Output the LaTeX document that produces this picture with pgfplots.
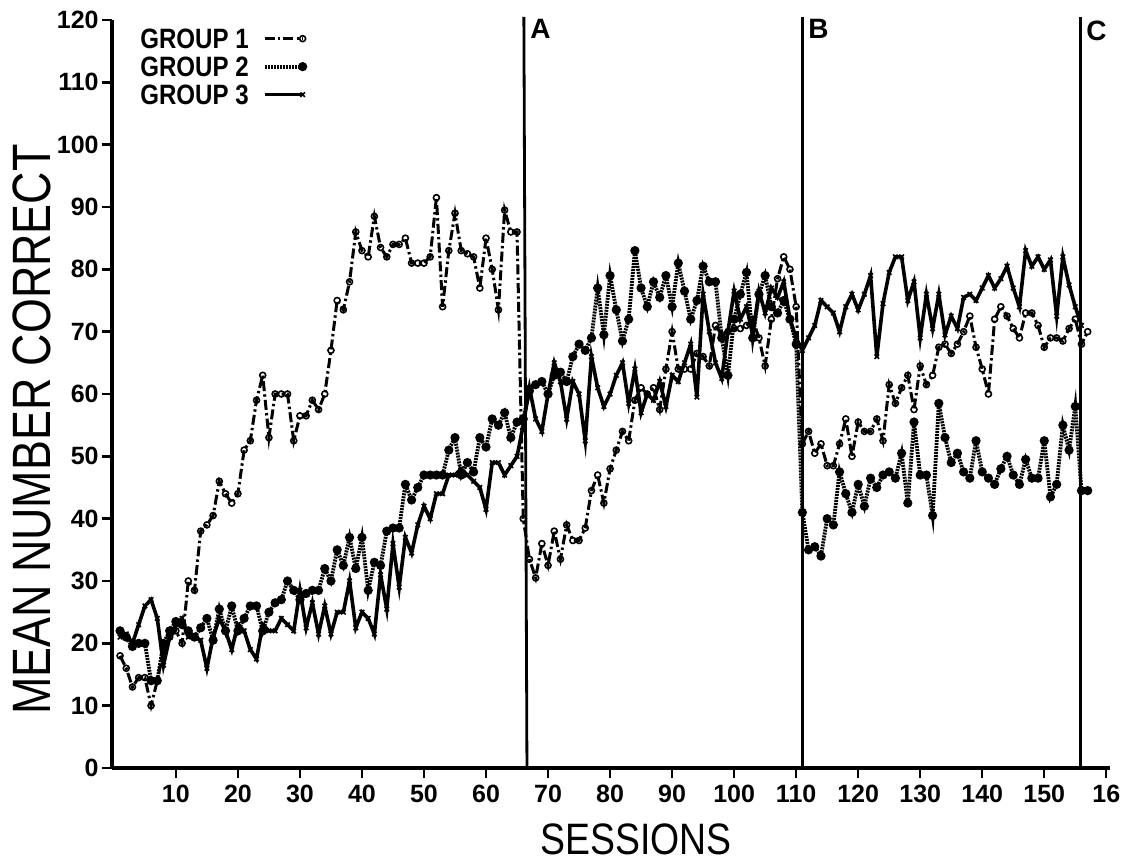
\documentclass[border=0pt]{standalone}
\usepackage{pgfplots}
\pgfplotsset{compat=1.18}
\usepackage{fontspec}
\setmainfont{Liberation Sans}
\pgfplotstableread{
x y
1 18
2 16
3 13
4 14.5
5 14.5
6 10
7 14
8 19
9 21
10 22
11 20
12 30
13 28.5
14 38
15 39
16 40.5
17 46
18 44
19 42.5
20 44
21 51
22 52.5
23 59
24 63
25 53
26 60
27 60
28 60
29 52.5
30 56.5
31 56.5
32 59
33 57.5
34 60
35 67
36 75
37 73.5
38 78
39 86
40 83
41 82
42 88.5
43 83.5
44 82
45 84
46 84
47 85
48 81
49 81
50 81
51 82
52 91.5
53 74
54 83
55 89
56 83
57 82.5
58 82
59 77
60 85
61 80
62 73.5
63 89.5
64 86
65 86
66 40
67 33.5
68 30.5
69 36
70 32.5
71 38
72 33.5
73 39
74 36.5
75 36.5
76 38.5
77 44.5
78 47
79 42.5
80 48
81 51
82 54
83 52.5
84 59
85 61
86 60
87 61
88 57.5
89 64
90 70
91 64
92 64
93 64
94 66.5
95 66
96 64.5
97 71
98 69.5
99 70
100 70.5
101 70.5
102 71
103 72
104 69
105 64.5
106 72
107 78.5
108 82
109 80
110 74
111 52
112 54
113 50.5
114 52
115 48.5
116 48.5
117 52
118 56
119 50
120 55.5
121 54
122 54
123 56
124 52.5
125 61.5
126 58.5
127 61
128 63
129 57.5
130 64.5
131 61.5
132 63
133 67.5
134 68
135 66.5
136 68
137 70
138 72.5
139 67.5
140 64
141 60
142 72
143 74
144 72.5
145 70.5
146 69
147 73
148 73
149 71
150 67.5
151 69
152 69
153 68.5
154 70.5
155 72
156 68
157 70
}\groupone
\pgfplotstableread{
x y
1 22
2 21
3 19.5
4 20
5 20
6 14
7 14
8 20
9 22
10 23.5
11 23
12 22
13 21
14 22.5
15 24
16 20.5
17 25.5
18 22
19 26
20 22
21 24
22 26
23 26
24 22
25 25
26 26.5
27 27
28 30
29 28.5
30 27
31 28
32 28.5
33 28.5
34 32
35 30
36 35
37 32.5
38 37
39 32
40 37
41 28.5
42 33
43 32.5
44 38
45 38.5
46 38.5
47 45.5
48 43
49 45
50 47
51 47
52 47
53 47
54 51
55 53
56 47
57 49
58 47.5
59 53
60 51.5
61 56
62 55
63 57
64 53
65 55.5
66 56
67 60.5
68 61.5
69 62
70 60
71 63
72 63.5
73 62
74 66
75 68
76 67
77 69
78 77
79 69.5
80 79
81 73.5
82 68.5
83 72
84 83
85 77
86 74
87 78
88 75.5
89 79
90 74
91 81
92 76.5
93 72
94 75
95 80.5
96 78
97 78
98 69
99 63
100 72
101 76
102 79.5
103 69
104 76
105 79
106 74
107 73
108 75
109 72
110 68
111 41
112 35
113 35.5
114 34
115 40
116 39
117 47.5
118 44
119 41
120 45.5
121 42
122 46.5
123 45
124 47
125 47.5
126 46.5
127 50.5
128 42.5
129 55.5
130 47
131 47
132 40.5
133 58.5
134 53
135 49
136 50.5
137 47.5
138 46.5
139 52.5
140 47.5
141 46.5
142 45.5
143 48
144 50
145 47
146 45.5
147 49.5
148 46.5
149 46.5
150 52.5
151 43.5
152 45.5
153 55
154 51
155 58
156 44.5
157 44.5
}\grouptwo
\pgfplotstableread{
x y
1 21
2 21.5
3 20
4 23
5 26
6 27
7 24
8 16.5
9 21
10 23
11 24
12 21
13 21
14 20.5
15 16
16 21
17 24
18 22
19 19
20 23
21 22
22 19
23 17.5
24 23
25 22
26 22
27 24
28 23
29 22
30 28.5
31 22.5
32 26.5
33 21.5
34 26
35 21.5
36 25
37 25
38 30
39 22.5
40 25
41 24
42 21.5
43 31
44 25.5
45 36
46 29
47 37
48 34.5
49 39
50 42
51 40
52 44
53 44
54 47
55 47
56 48
57 47
58 46
59 45
60 41.5
61 49
62 49
63 47
64 48.5
65 50
66 55
67 61
68 56
69 54
70 60
71 65
72 62
73 56
74 62
75 60
76 52.5
77 66
78 61
79 58
80 60
81 63
82 65
83 58.5
84 64
85 57
86 60
87 59
88 62
89 58
90 63
91 62
92 65
93 68
94 59.5
95 76
96 70
97 65
98 62.5
99 70
100 76.5
101 72
102 74
103 69.5
104 76.5
105 73
106 77
107 75.5
108 78
109 72
110 69
111 67
112 69
113 71
114 75
115 74
116 73
117 70
118 74
119 76
120 73.5
121 76
122 79
123 66
124 74.5
125 79.5
126 82
127 82
128 75
129 78
130 69
131 76
132 70.5
133 76
134 69.5
135 72.5
136 70.5
137 75.5
138 76
139 75
140 77
141 79
142 77
143 78.5
144 80.5
145 77
146 74
147 83
148 80.5
149 82
150 80
151 81.5
152 72.5
153 82
154 77.5
155 74
156 71
}\groupthree
\begin{document}
\begin{tikzpicture}
\begin{axis}[
  scale only axis, width=499pt, height=374pt,
  xmin=-0.3, xmax=160.6, ymin=0, ymax=120,
  axis x line=bottom, axis y line=left,
  axis line style={line width=1.8pt, -},
  xtick={10,20,...,160},
  xticklabels={10,20,30,40,50,60,70,80,90,100,110,120,130,140,150,16},
  ytick={0,10,...,120},
  tick align=outside, major tick length=5pt,
  tick style={line width=1.2pt, black},
  /pgf/number format/assume math mode=true,
  ticklabel style={font=\bfseries\fontsize{12.5}{12.5}\selectfont},
  yticklabel style={inner sep=1.5pt},
  clip=false,
  legend plot pos=right,
  legend cell align=left,
  legend style={at={(rel axis cs:0.02,0.997)}, anchor=north west, draw=none, fill=none,
    font=\bfseries\fontsize{14}{14}\selectfont, row sep=2pt, column sep=6pt,
    nodes={inner sep=1pt, text height=10pt, text depth=0pt}},
  legend image code/.code={\draw[#1, mark repeat=2, mark phase=2] plot coordinates {(0pt,0pt) (19pt,0pt)};},
]
\addplot[black, line width=1.5pt, dash pattern=on 5pt off 1.6pt on 1.2pt off 1.6pt,
  mark=o, mark size=1.5pt, mark options={solid, fill=white, line width=0.8pt}] table {\groupone};
\addlegendentry{\scalebox{0.86}[1]{GROUP 1}}
\addplot[black, line width=1.9pt, dash pattern=on 1pt off 0.5pt,
  mark=*, mark size=1.3pt, mark options={solid}] table {\grouptwo};
\addlegendentry{\scalebox{0.86}[1]{GROUP 2}}
\addplot[black, line width=1.8pt,
  mark=x, mark size=1.6pt, mark options={solid, line width=0.8pt}] table {\groupthree};
\addlegendentry{\scalebox{0.86}[1]{GROUP 3}}
\addplot[black, line width=1.4pt, forget plot] coordinates {(66.1,120.5) (66.6,0)};
\addplot[black, line width=1.4pt, forget plot] coordinates {(111,120.5) (111,0)};
\addplot[black, line width=1.4pt, forget plot] coordinates {(155.8,120.5) (155.8,0)};
\node[font=\bfseries\fontsize{14}{14}\selectfont] at (axis cs:68.8,118.6) {A};
\node[font=\bfseries\fontsize{14}{14}\selectfont] at (axis cs:113.6,118.6) {B};
\node[font=\bfseries\fontsize{14}{14}\selectfont] at (axis cs:158.4,118.3) {C};
\node[rotate=90, font=\fontsize{27}{27}\selectfont] at (axis cs:-13.2,54.3) {\scalebox{0.83}[1]{MEAN NUMBER CORRECT}};
\node[font=\fontsize{22}{22}\selectfont] at (axis cs:84.2,-11.4) {\scalebox{0.85}[1]{SESSIONS}};
\end{axis}
\pgfresetboundingbox
\useasboundingbox (-56pt,-47pt) rectangle (505pt,384pt);
\end{tikzpicture}
\end{document}
